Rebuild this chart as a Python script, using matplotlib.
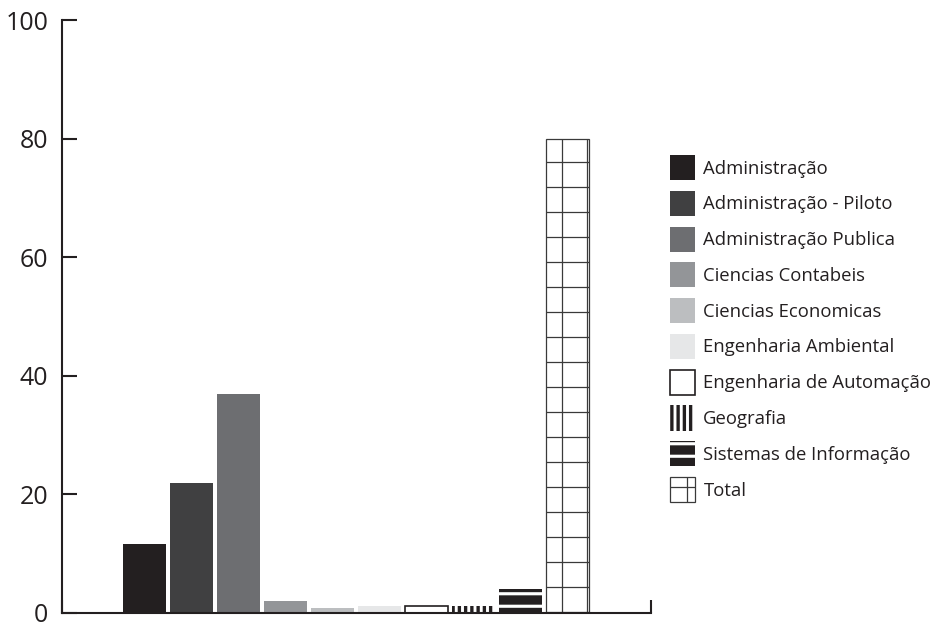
import numpy as np
import matplotlib
matplotlib.use("Agg")
from matplotlib import pyplot as plt

cursos = ["Administração", "Administração - Piloto", "Administração Publica",
          "Ciencias Contabeis", "Ciencias Economicas", "Engenharia Ambiental",
          "Engenharia de Automação", "Geografia", "Sistemas de Informação", "Total"]
valores = [11.6, 22.0, 37.0, 2.1, 0.9, 1.1, 1.1, 1.1, 4.1, 80.0]
yticks = [0, 20, 40, 60, 80, 100]

cinzas = ["#231f20", "#404041", "#6d6e71", "#939598", "#bcbec0", "#e6e7e8",
          "white", "white", "#231f20", "white"]
bordas = ["none", "none", "none", "none", "none", "none",
          "#231f20", "#231f20", "white", "#3a3a3a"]
larg_borda = [0, 0, 0, 0, 0, 0, 0.8, 0, 0, 0.6]
hachuras = [None, None, None, None, None, None, None, "||||", "--", "+"]
larg_hachura = [1, 1, 1, 1, 1, 1, 1, 1.6, 1.5, 0.6]

plt.rcParams['font.family'] = ['Open Sans', 'DejaVu Sans']
plt.rcParams['text.color'] = "#231f20"
plt.rcParams['hatch.linewidth'] = 0.6

fig = plt.figure(figsize=(938/150., 623/150.), dpi=150)
ax = fig.add_axes([62/938., 10/623., (651-62)/938., (613-20)/623.])

x = np.arange(len(valores))
barras = ax.bar(x, valores, width=0.915, color=cinzas, edgecolor=bordas,
                linewidth=larg_borda, label="_")
for b, nome, h, lh in zip(barras, cursos, hachuras, larg_hachura):
    b.set_label(nome)
    if h:
        b.set_hatch(h)
    if hasattr(b, "set_hatch_linewidth"):
        b.set_hatch_linewidth(lh)

ax.set_xlim(-1.755, 10.777)
ax.set_ylim(0, 100)
ax.set_yticks(yticks)
ax.set_xticks([-1.755, 10.777])
ax.set_xticklabels([])

for lado in ["top", "right"]:
    ax.spines[lado].set_visible(False)
for lado in ["left", "bottom"]:
    ax.spines[lado].set_linewidth(1.0)
    ax.spines[lado].set_color("#231f20")

ax.tick_params(axis="y", direction="in", length=7.2, width=1.0, color="#231f20",
               labelsize=12, labelcolor="#231f20", pad=6.5)
ax.tick_params(axis="x", direction="in", length=6.2, width=1.0, color="#231f20")

leg = ax.legend(handles=list(barras), loc="upper left",
                bbox_to_anchor=(670/938., (623-155)/623.),
                bbox_transform=fig.transFigure, frameon=False,
                fontsize=8.9, handlelength=1.35, handleheight=1.7,
                handletextpad=0.45, labelspacing=0.58,
                borderpad=0, borderaxespad=0)
for hd, lh in zip(leg.legend_handles, larg_hachura):
    if hasattr(hd, "set_hatch_linewidth"):
        hd.set_hatch_linewidth(lh)

fig.savefig("out.png", dpi=150)
